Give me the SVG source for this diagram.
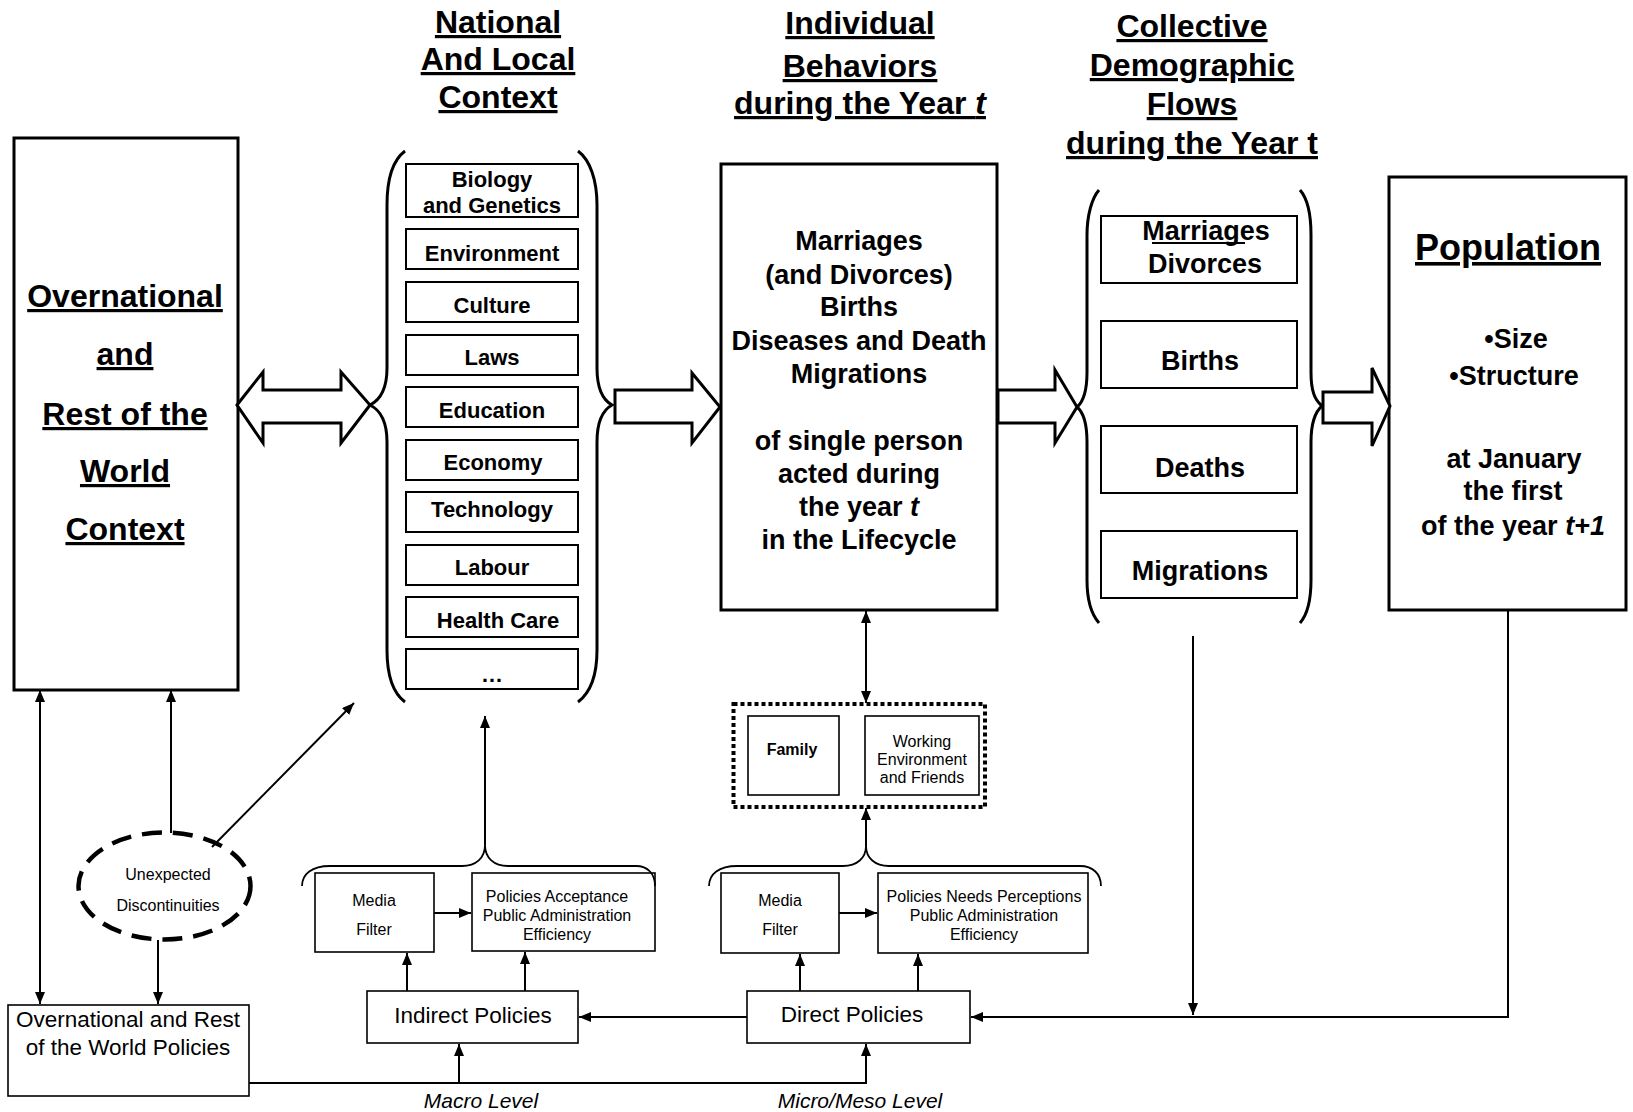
<svg xmlns="http://www.w3.org/2000/svg" width="1633" height="1112" viewBox="0 0 1633 1112">
<style>
text{font-family:"Liberation Sans",Arial,sans-serif;fill:#000}
.h{font-size:32px;font-weight:bold;text-anchor:middle;text-decoration:underline}
.big{stroke:#000;stroke-width:3;fill:#fff}
.box{stroke:#000;stroke-width:2;fill:#fff}
.sb{stroke:#000;stroke-width:1.6;fill:#fff}
.nl{font-size:22px;font-weight:bold;text-anchor:middle}
.ib{font-size:27px;font-weight:bold;text-anchor:middle}
.sm{font-size:16px;text-anchor:middle}
.md{font-size:22.5px;text-anchor:middle}
.lv{font-size:21px;font-style:italic;text-anchor:middle}
.brace{fill:none;stroke:#000;stroke-width:3}
.sbrace{fill:none;stroke:#000;stroke-width:1.8}
.hollow{fill:#fff;stroke:#000;stroke-width:3;stroke-linejoin:miter}
.c{fill:none;stroke:#000;stroke-width:2}
</style>
<defs>
<marker id="ah" viewBox="0 0 12 10" refX="12" refY="5" markerWidth="12" markerHeight="10" markerUnits="userSpaceOnUse" orient="auto-start-reverse">
<path d="M0,0 L12,5 L0,10 z" fill="#000"/>
</marker>
</defs>

<g id="headers">
<text class="h" x="498" y="33">National</text>
<text class="h" x="498" y="70">And Local</text>
<text class="h" x="498" y="108">Context</text>
<text class="h" x="860" y="34">Individual</text>
<text class="h" x="860" y="77">Behaviors</text>
<text class="h" x="860" y="114">during the Year <tspan font-style="italic">t</tspan></text>
<text class="h" x="1192" y="37">Collective</text>
<text class="h" x="1192" y="76">Demographic</text>
<text class="h" x="1192" y="115">Flows</text>
<text class="h" x="1192" y="154">during the Year t</text>
</g>

<g id="world-context">
<rect class="big" x="14" y="138" width="224" height="552"/>
<text class="h" x="125" y="307">Overnational</text>
<text class="h" x="125" y="365">and</text>
<text class="h" x="125" y="425">Rest of the</text>
<text class="h" x="125" y="482">World</text>
<text class="h" x="125" y="540">Context</text>
</g>

<g id="national-context">
<path class="brace" d="M405,151 C393,160 387,180 387,205 L387,368 C387,390 380,400 370,405 C380,410 387,420 387,442 L387,650 C387,676 393,693 405,702"/>
<path class="brace" d="M578,151 C590,160 597,180 597,205 L597,368 C597,390 603,400 612,405 C603,410 597,420 597,442 L597,650 C597,676 590,693 578,702"/>
<rect class="box" x="406" y="164" width="172" height="53"/>
<text class="nl" x="492" y="187">Biology</text>
<text class="nl" x="492" y="213">and Genetics</text>
<rect class="box" x="406" y="229" width="172" height="40"/>
<text class="nl" x="492" y="261">Environment</text>
<rect class="box" x="406" y="282" width="172" height="40"/>
<text class="nl" x="492" y="313">Culture</text>
<rect class="box" x="406" y="335" width="172" height="40"/>
<text class="nl" x="492" y="365">Laws</text>
<rect class="box" x="406" y="387" width="172" height="40"/>
<text class="nl" x="492" y="418">Education</text>
<rect class="box" x="406" y="440" width="172" height="40"/>
<text class="nl" x="493" y="470">Economy</text>
<rect class="box" x="406" y="492" width="172" height="40"/>
<text class="nl" x="492" y="517">Technology</text>
<rect class="box" x="406" y="545" width="172" height="40"/>
<text class="nl" x="492" y="575">Labour</text>
<rect class="box" x="406" y="597" width="172" height="40"/>
<text class="nl" x="498" y="628">Health Care</text>
<rect class="box" x="406" y="649" width="172" height="40"/>
<text class="nl" x="492" y="682">…</text>
</g>

<g id="individual">
<rect class="big" x="721" y="164" width="276" height="446"/>
<text class="ib" x="859" y="250">Marriages</text>
<text class="ib" x="859" y="284">(and Divorces)</text>
<text class="ib" x="859" y="316">Births</text>
<text class="ib" x="859" y="350">Diseases and Death</text>
<text class="ib" x="859" y="383">Migrations</text>
<text class="ib" x="859" y="450">of single person</text>
<text class="ib" x="859" y="483">acted during</text>
<text class="ib" x="859" y="516">the year <tspan font-style="italic">t</tspan></text>
<text class="ib" x="859" y="549">in the Lifecycle</text>
</g>

<g id="collective">
<path class="brace" d="M1099,190 C1092,198 1087,215 1087,235 L1087,372 C1087,392 1083,402 1077,407 C1083,412 1087,422 1087,442 L1087,580 C1087,600 1092,615 1099,623"/>
<path class="brace" d="M1300,190 C1307,198 1311,215 1311,235 L1311,372 C1311,392 1315,400 1322,406 C1315,412 1311,422 1311,442 L1311,580 C1311,600 1307,615 1300,623"/>
<rect class="box" x="1101" y="216" width="196" height="67"/>
<text class="ib" x="1206" y="240">Marriages</text>
<line x1="1152" y1="243" x2="1245" y2="243" stroke="#000" stroke-width="2"/>
<text class="ib" x="1205" y="273">Divorces</text>
<rect class="box" x="1101" y="321" width="196" height="67"/>
<text class="ib" x="1200" y="370">Births</text>
<rect class="box" x="1101" y="426" width="196" height="67"/>
<text class="ib" x="1200" y="477">Deaths</text>
<rect class="box" x="1101" y="531" width="196" height="67"/>
<text class="ib" x="1200" y="580">Migrations</text>
</g>

<g id="population">
<rect class="big" x="1389" y="177" width="237" height="433"/>
<text x="1508" y="260" style="font-size:36px;font-weight:bold;text-anchor:middle;text-decoration:underline">Population</text>
<text class="ib" x="1516" y="348">•Size</text>
<text class="ib" x="1514" y="385">•Structure</text>
<text class="ib" x="1514" y="468">at January</text>
<text class="ib" x="1513" y="500">the first</text>
<text class="ib" x="1513" y="535">of the year <tspan font-style="italic">t+1</tspan></text>
</g>

<g id="flow-arrows">
<polygon class="hollow" points="237,405 263,372 263,390 341,390 341,372 370,405 341,443 341,423 263,423 263,443"/>
<polygon class="hollow" points="615,390 692,390 692,373 720,407 692,443 692,423 615,423"/>
<polygon class="hollow" points="998,390 1055,390 1055,370 1077,407 1055,443 1055,423 998,423"/>
<polygon class="hollow" points="1323,392 1372,392 1372,368 1390,406 1372,446 1372,423 1323,423"/>
</g>

<g id="discontinuities">
<ellipse cx="164.5" cy="886" rx="86" ry="53.5" fill="#fff" stroke="#000" stroke-width="4.5" stroke-dasharray="20 11"/>
<text class="sm" x="168" y="880">Unexpected</text>
<text class="sm" x="168" y="911">Discontinuities</text>
</g>

<g id="world-policies">
<rect class="sb" x="8" y="1005" width="241" height="91"/>
<text class="md" x="128" y="1027">Overnational and Rest</text>
<text class="md" x="128" y="1055">of the World Policies</text>
</g>

<g id="indirect-group">
<rect class="sb" x="315" y="873" width="119" height="79"/>
<text class="sm" x="374" y="906">Media</text>
<text class="sm" x="374" y="935">Filter</text>
<rect class="sb" x="472" y="873" width="183" height="78"/>
<text class="sm" x="557" y="902">Policies Acceptance</text>
<text class="sm" x="557" y="921">Public Administration</text>
<text class="sm" x="557" y="940">Efficiency</text>
<path class="sbrace" d="M302,886 C302,874 312,866 330,866 L462,866 C476,866 485,858 485,845 C485,858 494,866 508,866 L636,866 C648,866 655,874 655,886"/>
<rect class="sb" x="367" y="991" width="211" height="52"/>
<text class="md" x="473" y="1023">Indirect Policies</text>
</g>

<g id="direct-group">
<rect class="sb" x="721" y="873" width="118" height="80"/>
<text class="sm" x="780" y="906">Media</text>
<text class="sm" x="780" y="935">Filter</text>
<rect class="sb" x="878" y="873" width="210" height="80"/>
<text class="sm" x="984" y="902">Policies Needs Perceptions</text>
<text class="sm" x="984" y="921">Public Administration</text>
<text class="sm" x="984" y="940">Efficiency</text>
<path class="sbrace" d="M709,886 C709,874 719,866 737,866 L843,866 C857,866 866,858 866,846 C866,858 875,866 889,866 L1080,866 C1093,866 1101,874 1101,886"/>
<rect class="sb" x="747" y="991" width="223" height="52"/>
<text class="md" x="852" y="1022">Direct Policies</text>
</g>

<g id="social-network">
<rect x="733.5" y="704" width="251.5" height="103" fill="none" stroke="#000" stroke-width="4" stroke-dasharray="4 3"/>
<rect class="sb" x="748" y="716" width="91" height="79"/>
<text class="sm" x="792" y="755" font-weight="bold">Family</text>
<rect class="sb" x="865" y="716" width="114" height="79"/>
<text class="sm" x="922" y="747">Working</text>
<text class="sm" x="922" y="765">Environment</text>
<text class="sm" x="922" y="783">and Friends</text>
</g>

<g id="levels">
<text class="lv" x="481" y="1108">Macro Level</text>
<text class="lv" x="860" y="1108">Micro/Meso Level</text>
</g>

<g id="connectors">
<line class="c" x1="40" y1="690" x2="40" y2="1004" marker-start="url(#ah)" marker-end="url(#ah)"/>
<line class="c" x1="171" y1="833" x2="171" y2="690" marker-end="url(#ah)"/>
<line class="c" x1="212" y1="847" x2="354" y2="703" marker-end="url(#ah)"/>
<line class="c" x1="158" y1="940" x2="158" y2="1004" marker-end="url(#ah)"/>
<polyline class="c" points="249,1083 866,1083 866,1044" marker-end="url(#ah)"/>
<line class="c" x1="459" y1="1083" x2="459" y2="1044" marker-end="url(#ah)"/>
<line class="c" x1="747" y1="1017" x2="579" y2="1017" marker-end="url(#ah)"/>
<polyline class="c" points="1508,610 1508,1017 971,1017" marker-end="url(#ah)" stroke-width="2.2"/>
<line class="c" x1="1193" y1="636" x2="1193" y2="1015" marker-end="url(#ah)"/>
<line class="c" x1="866" y1="611" x2="866" y2="703" marker-start="url(#ah)" marker-end="url(#ah)"/>
<line class="c" x1="866" y1="846" x2="866" y2="808" marker-end="url(#ah)"/>
<line class="c" x1="485" y1="845" x2="485" y2="716" marker-end="url(#ah)"/>
<line class="c" x1="407" y1="991" x2="407" y2="953" marker-end="url(#ah)"/>
<line class="c" x1="525" y1="991" x2="525" y2="952" marker-end="url(#ah)"/>
<line class="c" x1="800" y1="991" x2="800" y2="954" marker-end="url(#ah)"/>
<line class="c" x1="918" y1="991" x2="918" y2="954" marker-end="url(#ah)"/>
<line class="c" x1="434" y1="913" x2="471" y2="913" stroke-width="3" marker-end="url(#ah)"/>
<line class="c" x1="839" y1="913" x2="877" y2="913" stroke-width="3" marker-end="url(#ah)"/>
</g>
</svg>
